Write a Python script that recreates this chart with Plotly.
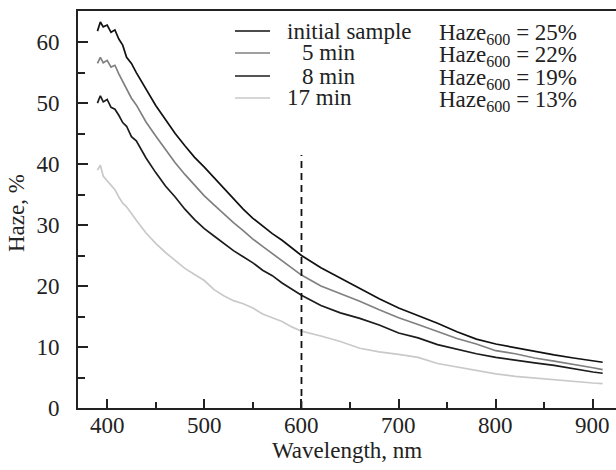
import plotly.graph_objects as go

# ---- data ----
wavelength = [390, 393, 396, 400, 404, 408, 412, 416, 420, 425, 430, 440, 450, 460, 470, 480,
              490, 500, 510, 520, 530, 540, 550, 560, 570, 580, 590, 600, 620, 640, 660, 680,
              700, 720, 740, 760, 780, 800, 820, 840, 860, 880, 900, 910]

haze_initial = [61.8, 63.3, 62.5, 62.8, 61.6, 62.0, 60.5, 59.5, 57.5, 56.5, 55.0, 52.3, 49.6, 47.3,
                45.0, 43.0, 41.1, 39.5, 37.8, 36.0, 34.3, 32.6, 31.1, 29.8, 28.6, 27.5, 26.2, 25.0,
                23.0, 21.3, 19.5, 17.9, 16.4, 15.2, 13.9, 12.5, 11.3, 10.5, 9.9, 9.2, 8.7, 8.2, 7.8, 7.5]

haze_5min = [56.5, 57.5, 56.6, 57.0, 55.9, 56.2, 54.8, 53.5, 52.2, 50.8, 49.7, 46.9, 44.6, 42.3,
             40.2, 38.3, 36.5, 34.8, 33.3, 31.8, 30.4, 29.1, 27.7, 26.5, 25.3, 24.1, 22.9, 21.8,
             20.0, 18.8, 17.5, 16.1, 14.8, 13.7, 12.6, 11.4, 10.5, 9.4, 8.9, 8.2, 7.7, 7.2, 6.6, 6.3]

haze_8min = [50.0, 51.2, 50.2, 50.6, 49.3, 49.0, 48.0, 46.8, 46.2, 44.5, 43.8, 41.0, 38.6, 36.4,
             34.6, 32.6, 30.9, 29.4, 28.2, 27.0, 25.8, 24.8, 23.8, 22.6, 21.7, 20.5, 19.5, 18.5,
             16.8, 15.6, 14.7, 13.6, 12.3, 11.5, 10.4, 9.6, 8.9, 8.3, 7.8, 7.4, 7.0, 6.4, 5.9, 5.7]

haze_17min = [39.0, 39.8, 38.0, 37.3, 36.5, 35.8, 34.6, 33.6, 33.0, 31.8, 30.8, 28.7, 27.0, 25.5,
              24.2, 22.9, 21.9, 20.9, 19.4, 18.4, 17.6, 17.1, 16.4, 15.4, 14.8, 14.2, 13.3, 12.6,
              11.8, 10.9, 9.8, 9.2, 8.8, 8.3, 7.3, 6.7, 6.1, 5.6, 5.2, 4.9, 4.6, 4.4, 4.1, 4.0]

series_names = ["initial sample", "5 min", "8 min", "17 min"]
haze600_values = [25, 22, 19, 13]
series_colors = ["#111111", "#808080", "#1c1c1c", "#c9c9c9"]

marker_wavelength = [600, 600]
marker_haze = [0, 41.5]

x_ticks = [400, 500, 600, 700, 800, 900]
y_ticks = [0, 10, 20, 30, 40, 50, 60]

# ---- figure ----
W, H = 616, 470
L, R, T, B = 78, 0, 11, 62
FONT = "Liberation Serif"
FS = 23
TXT = "#222"

fig = go.Figure()
for name, ys, col in zip(series_names,
                         [haze_initial, haze_5min, haze_8min, haze_17min],
                         series_colors):
    fig.add_trace(go.Scatter(x=wavelength, y=ys, mode="lines", name=name,
                             line=dict(color=col, width=1.7), showlegend=False))

fig.add_trace(go.Scatter(x=marker_wavelength, y=marker_haze, mode="lines",
                         line=dict(color="#111111", width=1.8, dash="7px,5px"),
                         showlegend=False))

# legend drawn manually (pixel positions converted to paper coords)
def px2paper(px, py):
    return (px - L) / (W - L - R), (H - B - py) / (H - T - B)

row_y = [31, 53, 76, 98]
name_x = [285, 300, 300, 285]
for i, (name, val, col) in enumerate(zip(series_names, haze600_values, series_colors)):
    x0, y0 = px2paper(235, row_y[i])
    x1, _ = px2paper(270, row_y[i])
    fig.add_shape(type="line", xref="paper", yref="paper", x0=x0, x1=x1, y0=y0, y1=y0,
                  line=dict(color=col, width=1.7))
    xt, yt = px2paper(name_x[i], row_y[i])
    fig.add_annotation(xref="paper", yref="paper", x=xt, y=yt, text=name, showarrow=False,
                       xanchor="left", yanchor="middle",
                       font=dict(family=FONT, size=FS, color=TXT))
    xh, yh = px2paper(437, row_y[i] + 3)
    fig.add_annotation(xref="paper", yref="paper", x=xh, y=yh,
                       text=f"Haze<sub>600</sub> = {val}%", showarrow=False,
                       xanchor="left", yanchor="middle",
                       font=dict(family=FONT, size=FS, color=TXT))

# x tick labels and axis titles as annotations (positioned like the reference)
for v in x_ticks:
    fig.add_annotation(x=v, xref="x", y=0, yref="paper", yshift=-3, text=str(v),
                       showarrow=False, yanchor="top", xanchor="center",
                       font=dict(family=FONT, size=FS, color=TXT))
fig.add_annotation(x=0.5, xref="paper", y=0, yref="paper", yshift=-28,
                   text="Wavelength, nm", showarrow=False, yanchor="top",
                   font=dict(family=FONT, size=FS, color=TXT))
fig.add_annotation(x=0, xref="paper", xshift=-76, y=0.5, yref="paper", yshift=-4,
                   text="Haze, %", textangle=-90, showarrow=False,
                   xanchor="left", yanchor="middle",
                   font=dict(family=FONT, size=FS, color=TXT))

fig.update_layout(
    width=W, height=H,
    margin=dict(l=L, r=R, t=T, b=B, pad=0, autoexpand=False),
    paper_bgcolor="white", plot_bgcolor="white",
    font=dict(family=FONT, size=FS, color=TXT),
    showlegend=False,
)
fig.update_xaxes(
    range=[370, 923.7], tickvals=x_ticks, ticks="inside", ticklen=9, tickwidth=1.6,
    tickcolor=TXT, showline=True, linecolor=TXT, linewidth=2, mirror=True,
    showgrid=False, zeroline=False, automargin=False, showticklabels=False,
    minor=dict(ticks="inside", ticklen=6, dtick=50, tick0=0, tickwidth=1.6, tickcolor=TXT, showgrid=False),
)
fig.update_yaxes(
    range=[0, 65.1], tickvals=y_ticks, ticks="inside", ticklen=10, tickwidth=1.6,
    tickcolor=TXT, showline=True, linecolor=TXT, linewidth=2, mirror=False,
    showgrid=False, zeroline=False, automargin=False,
    minor=dict(ticks="inside", ticklen=7, dtick=5, tick0=0, tickwidth=1.6, tickcolor=TXT, showgrid=False),
    ticklabelstandoff=12,
)

fig.write_html("out.html", config={"displayModeBar": False},
               post_script="document.body.style.margin='0';document.body.style.padding='0';")
